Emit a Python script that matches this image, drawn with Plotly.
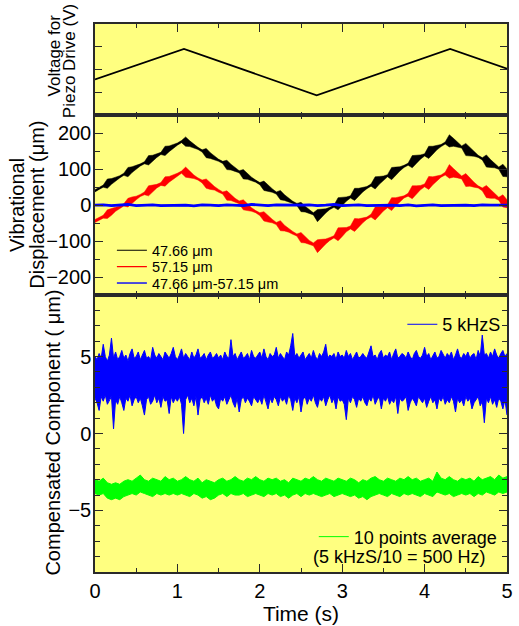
import plotly.graph_objects as go
from plotly.subplots import make_subplots

# ---------------- data ----------------
# Piezo drive voltage: triangle-wave vertices (time in s, voltage in arbitrary units)
VOLT_T = [0.0, 1.08, 2.69, 4.31, 5.0]
VOLT_V = [1.57, 2.91, 0.88, 2.91, 2.04]

# Vibrational displacement, sampled every 0.05 s: midline (um) and vibration half-amplitude (um)
DISP_STEP = 0.05
BLACK_MID = [40, 47, 53, 60, 66, 73, 79, 86, 92, 99, 105, 112, 118, 125, 131, 138, 144, 151, 157, 164, 170, 177,
             177, 171, 164, 158, 151, 145, 138, 132, 125, 119, 112, 106, 99, 93, 86, 80, 73, 67, 60, 54, 47, 41,
             34, 28, 21, 15, 8, 2, -5, -11, -18, -24,
             -29, -22, -16, -9, -3, 4, 10, 17, 23, 30, 36, 43, 49, 56, 62, 69, 75, 82, 88, 95, 101, 108, 114, 121,
             127, 134, 140, 147, 153, 160, 166, 173, 179,
             175, 168, 162, 155, 149, 142, 136, 129, 123, 116, 110, 103, 97, 90]
BLACK_AMP = [3, 3, 3, 13, 8, 5, 3, 3, 13, 8,
             5, 3, 3, 13, 8, 5, 3, 13, 8, 5,
             3, 3, 13, 8, 5, 3, 3, 13, 8, 5,
             3, 3, 13, 8, 5, 3, 13, 8, 5, 3,
             3, 13, 8, 5, 3, 13, 8, 5, 3, 3,
             13, 8, 5, 3, 17, 11, 6, 3, 3, 17,
             11, 6, 3, 17, 11, 6, 3, 3, 17, 11,
             6, 3, 17, 11, 6, 3, 3, 17, 11, 6,
             3, 17, 11, 6, 3, 3, 17, 11, 6, 3,
             17, 11, 6, 3, 3, 17, 11, 6, 3, 17,
             11]
RED_MID = [-44, -38, -32, -25, -19, -12, -6, 1, 7, 14, 20, 27, 33, 40, 46, 53, 59, 66, 72, 79, 85, 92,
           92, 86, 79, 73, 66, 60, 53, 47, 40, 34, 27, 21, 14, 8, 1, -5, -12, -18, -25, -31, -38, -44,
           -51, -57, -64, -70, -77, -83, -90, -96, -103, -109,
           -114, -107, -101, -94, -88, -81, -75, -68, -62, -55, -49, -42, -36, -29, -23, -16, -10, -3, 3, 10,
           16, 23, 29, 36, 42, 49, 55, 62, 68, 75, 81, 88, 94,
           90, 83, 77, 70, 64, 57, 51, 44, 38, 31, 25, 18, 12, 4]
RED_AMP = [4, 3, 4, 12, 9, 5, 4, 3, 12, 9,
           5, 3, 4, 14, 9, 5, 4, 13, 8, 5,
           4, 3, 14, 9, 5, 3, 4, 13, 9, 5,
           4, 3, 13, 8, 5, 4, 14, 9, 5, 3,
           4, 13, 9, 5, 3, 14, 8, 5, 4, 3,
           14, 9, 5, 4, 18, 12, 7, 4, 3, 18,
           12, 6, 4, 18, 11, 7, 3, 4, 18, 12,
           6, 4, 18, 11, 7, 3, 4, 18, 12, 6,
           4, 18, 11, 7, 3, 4, 19, 12, 7, 4,
           18, 11, 7, 3, 4, 17, 12, 6, 4, 17,
           11]

# Difference signal 47.66 um - 57.15 um, every 0.1 s (um)
DIFF_STEP = 0.1
DIFF_UM = [0, 1, -1, 0, 2, -1, 0, 1, -1, 0,
           1, 0, -2, 1, 0, -1, 1, 0, -1, 2,
           0, -1, 1, 0, -1, 0, 1, -1, 0, 2,
           -1, 0, 1, -1, 0, 1, 0, -1, 1, -2,
           0, 1, -1, 0, 1, 0, -1, 1, 0, -1,
           0]

# Compensated component at 5 kHz sampling: upper / lower envelope per 0.025 s (um)
RAW_STEP = 0.025
RAW_HI = [5.0, 4.8, 5.2, 4.9, 5.8, 5.0, 4.7, 5.1, 6.2, 4.9,
          5.3, 4.8, 5.0, 5.4, 4.9, 5.1, 4.7, 5.2, 5.5, 4.9,
          5.0, 5.3, 4.8, 5.1, 5.4, 4.9, 5.0, 4.8, 5.6, 5.1,
          4.9, 5.2, 5.0, 4.8, 5.3, 5.1, 4.9, 5.2, 5.6, 5.0,
          4.8, 5.1, 5.5, 4.9, 5.2, 5.0, 4.8, 5.3, 4.9, 5.1,
          5.5, 4.9, 5.0, 5.2, 4.8, 5.1, 5.3, 4.9, 5.0, 5.2,
          4.9, 5.1, 4.8, 5.3, 5.0, 4.9, 6.1, 5.0, 5.2, 4.8,
          5.1, 5.3, 4.9, 5.0, 5.2, 4.8, 5.4, 5.0, 4.9, 5.1,
          5.3, 4.9, 5.5, 5.0, 4.8, 5.2, 5.0, 5.1, 5.6, 4.9,
          5.2, 5.0, 4.8, 5.3, 5.1, 5.7, 6.5, 5.0, 5.2, 4.9,
          5.1, 5.3, 4.8, 5.0, 5.2, 4.9, 5.4, 5.0, 4.8, 5.2,
          5.0, 5.3, 5.8, 4.9, 5.1, 5.0, 5.2, 4.8, 5.3, 5.0,
          5.1, 4.9, 5.4, 5.0, 5.2, 4.8, 5.1, 5.3, 4.9, 5.0,
          5.2, 5.0, 4.9, 5.3, 5.7, 5.0, 5.1, 4.8, 5.2, 5.4,
          4.9, 5.1, 5.0, 5.3, 4.8, 5.2, 5.5, 4.9, 5.0, 5.2,
          5.1, 4.9, 5.3, 5.0, 4.8, 5.2, 5.4, 5.0, 4.9, 5.1,
          5.6, 5.0, 5.2, 4.8, 5.1, 5.3, 4.9, 5.0, 5.4, 5.1,
          4.9, 5.2, 5.0, 5.3, 4.8, 5.1, 5.5, 5.0, 4.9, 5.2,
          5.0, 5.3, 4.9, 5.1, 5.2, 4.8, 5.4, 5.0, 6.4, 5.1,
          5.2, 4.9, 5.3, 5.0, 5.5, 5.1, 4.9, 5.2, 5.4, 5.0,
          5.2]
RAW_LO = [2.3, 2.0, 1.5, 2.4, 2.1, 2.5, 1.9, 2.2, 2.4, 0.3,
          2.2, 1.9, 2.4, 2.0, 1.5, 2.3, 2.1, 2.5, 1.8, 2.2,
          2.4, 2.0, 2.3, 1.8, 1.2, 2.2, 2.4, 1.9, 2.1, 2.5,
          2.0, 2.3, 1.7, 2.4, 2.1, 2.2, 1.3, 2.4, 2.0, 2.3,
          2.1, 2.4, 1.9, 0.0, 2.2, 2.5, 2.0, 2.3, 1.8, 2.4,
          1.2, 2.2, 2.4, 2.0, 2.3, 1.9, 2.5, 2.1, 2.3, 1.8,
          1.6, 2.3, 2.1, 2.4, 1.9, 2.2, 2.5, 2.0, 1.7, 2.3,
          1.4, 2.2, 2.4, 2.0, 2.3, 2.1, 1.8, 2.4, 2.2, 2.0,
          2.3, 1.9, 2.5, 2.1, 1.6, 2.3, 2.0, 2.4, 2.2, 1.8,
          2.4, 2.1, 2.3, 1.9, 2.5, 2.2, 1.5, 2.3, 2.0, 2.4,
          1.4, 2.2, 2.4, 1.9, 2.3, 2.1, 2.5, 2.0, 1.7, 2.3,
          2.1, 2.4, 1.8, 2.2, 2.5, 2.0, 2.3, 1.6, 2.4, 2.1,
          2.2, 1.9, 0.9, 2.3, 2.0, 2.4, 2.2, 1.7, 2.3, 2.1,
          2.4, 2.0, 1.8, 2.3, 2.1, 2.5, 1.9, 2.2, 2.4, 1.6,
          2.3, 2.1, 2.4, 1.9, 2.2, 2.0, 2.4, 1.3, 2.3, 2.1,
          2.2, 2.4, 1.5, 2.0, 2.3, 2.1, 1.8, 2.4, 2.2, 2.0,
          2.3, 1.7, 2.1, 2.4, 2.0, 2.2, 1.6, 2.3, 2.1, 2.4,
          1.9, 2.2, 2.0, 2.4, 2.1, 1.4, 2.3, 2.0, 2.2, 1.8,
          2.4, 2.1, 2.3, 1.6, 2.0, 2.2, 2.4, 1.8, 2.1, 0.7,
          2.3, 2.0, 2.4, 1.9, 2.2, 1.7, 2.3, 2.1, 1.6, 2.2,
          1.2]

# 10-point moving average (500 Hz): upper / lower envelope per 0.05 s (um)
AVG_STEP = 0.05
AVG_HI = [-3.0, -3.1, -2.9, -3.2, -3.3, -3.2, -3.3, -3.1, -3.0, -3.1,
          -2.9, -2.7, -3.0, -3.1, -2.9, -3.0, -3.1, -2.8, -3.0, -2.9,
          -3.1, -3.0, -2.8, -3.0, -3.1, -2.9, -3.2, -3.0, -3.1, -3.2,
          -3.0, -2.9, -3.1, -3.0, -2.8, -3.0, -3.1, -2.9, -3.0, -2.8,
          -3.0, -3.1, -2.9, -3.0, -2.9, -3.1, -3.0, -3.2, -2.9, -3.0,
          -3.1, -2.9, -3.0, -2.8, -3.0, -3.1, -2.9, -3.0, -3.1, -2.9,
          -3.0, -3.1, -2.9, -3.0, -3.2, -3.0, -3.1, -2.9, -2.8, -3.0,
          -3.1, -2.9, -3.0, -3.1, -2.9, -3.0, -2.8, -3.0, -2.9, -3.1,
          -3.0, -2.9, -3.1, -2.5, -2.9, -3.0, -2.8, -3.0, -3.1, -2.9,
          -3.0, -2.9, -3.1, -2.8, -3.0, -2.9, -2.8, -3.0, -2.7, -2.9,
          -2.8]
AVG_LO = [-3.9, -4.0, -3.9, -4.2, -4.3, -4.2, -4.3, -4.1, -4.0, -3.9,
          -4.0, -3.8, -3.9, -4.0, -4.1, -3.9, -4.0, -3.9, -4.0, -3.9,
          -4.0, -3.9, -4.0, -4.1, -3.9, -4.0, -4.2, -4.1, -4.3, -4.2,
          -4.0, -3.9, -4.1, -3.9, -4.0, -4.0, -3.9, -4.1, -4.0, -3.9,
          -4.0, -4.1, -3.9, -4.0, -3.9, -4.1, -4.0, -4.2, -4.0, -3.9,
          -4.1, -3.9, -4.0, -3.9, -4.0, -4.1, -4.0, -3.9, -4.1, -4.0,
          -3.9, -4.0, -4.1, -4.0, -4.2, -4.1, -4.3, -4.1, -4.0, -3.9,
          -4.0, -4.1, -3.9, -4.0, -4.1, -3.9, -4.0, -3.9, -4.0, -4.1,
          -3.9, -4.0, -4.1, -3.8, -3.9, -4.0, -3.9, -4.1, -4.0, -3.9,
          -4.0, -3.9, -4.1, -3.9, -4.0, -3.8, -3.9, -4.0, -3.8, -3.9,
          -3.8]

X_TICKS = [0, 1, 2, 3, 4, 5]
DISP_TICKS = [-200, -100, 0, 100, 200]
COMP_TICKS = [-5, 0, 5]

# ---------------- styling ----------------
FONT = "Liberation Sans, Arial, Helvetica, sans-serif"
PANEL_BG = "#FFFF80"
AXIS_COLOR = "#2a2a2a"
BLACK, RED, BLUE, GREEN = "#000000", "#FF0000", "#0000FF", "#00FF00"


def grid(step, n):
    return [round(i * step, 4) for i in range(n)]


def band(t, hi, lo):
    return t + t[::-1], list(hi) + list(lo)[::-1]


fig = make_subplots(rows=3, cols=1, shared_xaxes=True, vertical_spacing=0,
                    row_heights=[92, 181, 279])

# --- top panel: piezo drive voltage
fig.add_trace(go.Scatter(x=VOLT_T, y=VOLT_V, mode="lines", line=dict(color=BLACK, width=1.8),
                         showlegend=False, hoverinfo="skip"), row=1, col=1)

# --- middle panel: vibrational displacement
t_disp = grid(DISP_STEP, len(BLACK_MID))
for mid, amp, color, name, leg in [(BLACK_MID, BLACK_AMP, BLACK, "47.66 \u03bcm", "legend"),
                                    (RED_MID, RED_AMP, RED, "57.15 \u03bcm", "legend2")]:
    hi = [m + a for m, a in zip(mid, amp)]
    lo = [m - a for m, a in zip(mid, amp)]
    bx, by = band(t_disp, hi, lo)
    fig.add_trace(go.Scatter(x=bx, y=by, mode="lines", fill="toself", fillcolor=color,
                             line=dict(color=color, width=0.5), showlegend=False,
                             hoverinfo="skip"), row=2, col=1)
    fig.add_trace(go.Scatter(x=t_disp, y=mid, mode="lines", line=dict(color=color, width=1.2),
                             name=name, legend=leg, hoverinfo="skip"), row=2, col=1)

t_diff = grid(DIFF_STEP, len(DIFF_UM))
fig.add_trace(go.Scatter(x=t_diff, y=DIFF_UM, mode="lines", line=dict(color=BLUE, width=2.8),
                         showlegend=False, hoverinfo="skip"), row=2, col=1)
fig.add_trace(go.Scatter(x=t_diff, y=DIFF_UM, mode="lines", line=dict(color=BLUE, width=1.4),
                         name="47.66 \u03bcm-57.15 \u03bcm", legend="legend3", hoverinfo="skip"),
              row=2, col=1)

# --- bottom panel: compensated component
for step, hi, lo, color, name, leg in [(RAW_STEP, RAW_HI, RAW_LO, BLUE, "5 kHzS", "legend4"),
                                       (AVG_STEP, AVG_HI, AVG_LO, GREEN, "10 points average", "legend5")]:
    t = grid(step, len(hi))
    bx, by = band(t, hi, lo)
    fig.add_trace(go.Scatter(x=bx, y=by, mode="lines", fill="toself", fillcolor=color,
                             line=dict(color=color, width=0), showlegend=False,
                             hoverinfo="skip"), row=3, col=1)
    fig.add_trace(go.Scatter(x=t, y=hi, mode="lines", line=dict(color=color, width=1),
                             name=name, legend=leg, hoverinfo="skip"), row=3, col=1)
    fig.add_trace(go.Scatter(x=t, y=lo, mode="lines", line=dict(color=color, width=1),
                             showlegend=False, hoverinfo="skip"), row=3, col=1)

# ---------------- axes ----------------
axis_common = dict(showline=True, linecolor=AXIS_COLOR, linewidth=1.5, mirror="allticks",
                   ticks="inside", ticklen=8, tickwidth=1.2, tickcolor=AXIS_COLOR,
                   showgrid=False, zeroline=False,
                   tickfont=dict(family=FONT, size=20, color="#000"))

for r in (1, 2, 3):
    fig.update_xaxes(axis_common, range=[0, 5], tickmode="array", tickvals=X_TICKS,
                     minor=dict(ticks="inside", ticklen=4, dtick=0.5, tickcolor=AXIS_COLOR,
                                tickwidth=1.2, showgrid=False),
                     row=r, col=1)
fig.update_xaxes(showticklabels=True, title=dict(text="Time (s)", standoff=4,
                 font=dict(family=FONT, size=21, color="#000")), row=3, col=1)

fig.update_yaxes(axis_common, range=[0, 4], tickmode="array", tickvals=[1, 2, 3],
                 showticklabels=False, ticklen=7, row=1, col=1)
fig.update_yaxes(axis_common, range=[-250, 250], tickmode="array", tickvals=DISP_TICKS,
                 ticklabelstandoff=-2,
                 minor=dict(ticks="inside", ticklen=5, dtick=50, tickcolor=AXIS_COLOR,
                            tickwidth=1.2, showgrid=False),
                 row=2, col=1)
fig.update_yaxes(axis_common, range=[-9, 9], tickmode="array", tickvals=COMP_TICKS,
                 ticklabelstandoff=-2,
                 minor=dict(ticks="inside", ticklen=5, dtick=1, tickcolor=AXIS_COLOR,
                            tickwidth=1.2, showgrid=False),
                 row=3, col=1)

# panel heights
fig.update_layout(yaxis=dict(domain=[0.8333, 1.0]),
                  yaxis2=dict(domain=[0.5054, 0.8333]),
                  yaxis3=dict(domain=[0.0, 0.5054]))

# ---------------- legends ----------------
def legend_at(x, y, size):
    return dict(x=x, y=y, xanchor="left", yanchor="middle", bgcolor="rgba(0,0,0,0)",
                borderwidth=0, font=dict(family=FONT, size=size, color="#000"))


fig.update_layout(
    legend=legend_at(0.041, 0.5870, 14.5),
    legend2=legend_at(0.041, 0.5571, 14.5),
    legend3=legend_at(0.041, 0.5272, 14.5),
    legend4=legend_at(0.746, 0.4515, 18),
    legend5=legend_at(0.531, 0.064, 18),
)

# ---------------- axis titles & note ----------------
ann_font = dict(family=FONT, color="#000")
annotations = [
    dict(text="Voltage for", x=-0.098, y=0.942, size=17),
    dict(text="Piezo Drive (V)", x=-0.062, y=0.933, size=17),
    dict(text="Vibrational", x=-0.189, y=0.670, size=20),
    dict(text="Displacement (\u03bcm)", x=-0.141, y=0.670, size=20),
    dict(text="Compensated Component ( \u03bcm)", x=-0.103, y=0.2536, size=20),
]
for a in annotations:
    fig.add_annotation(text=a["text"], x=a["x"], y=a["y"], xref="paper", yref="paper",
                       textangle=-90, showarrow=False, xanchor="center", yanchor="middle",
                       font=dict(ann_font, size=a["size"]))
fig.add_annotation(text="(5 kHzS/10 = 500 Hz)", x=0.524, y=0.027, xref="paper", yref="paper",
                   showarrow=False, xanchor="left", yanchor="middle",
                   font=dict(ann_font, size=18))

fig.update_layout(
    width=519, height=626,
    margin=dict(l=95, r=6, t=24, b=50),
    paper_bgcolor="white",
    plot_bgcolor=PANEL_BG,
    font=dict(family=FONT, color="#000"),
)

fig.write_html("out.html")
